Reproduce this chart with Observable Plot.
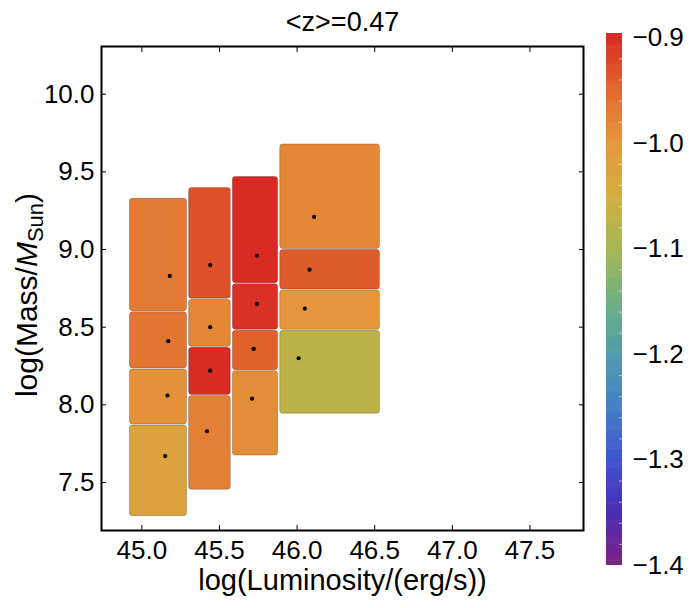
<!DOCTYPE html>
<html><head><meta charset="utf-8">
<script src="https://cdn.jsdelivr.net/npm/d3@7"></script>
<script src="https://cdn.jsdelivr.net/npm/@observablehq/plot@0.6"></script>
<style>
body{margin:0;background:#fff;}
#wrap{position:relative;width:692px;height:608px;font-family:"Liberation Sans",Arial,sans-serif;}
#wrap svg{position:absolute;top:0;}
</style></head><body><div id="wrap"></div>
<script>
const title = "<z>=0.47";
const xLabel = "log(Luminosity/(erg/s))";
const xTicks = [45.0, 45.5, 46.0, 46.5, 47.0, 47.5];
const yTicks = [7.5, 8.0, 8.5, 9.0, 9.5, 10.0];
const cTicks = [-1.4, -1.3, -1.2, -1.1, -1.0, -0.9];
const cMinor = [-1.38,-1.36,-1.34,-1.32,-1.28,-1.26,-1.24,-1.22,-1.18,-1.16,-1.14,-1.12,-1.08,-1.06,-1.04,-1.02,-0.98,-0.96,-0.94,-0.92];

// luminosity bin edges (4 columns)
const lumLo = [44.920, 45.301, 45.583, 45.888];
const lumHi = [45.294, 45.576, 45.881, 46.537];
// boxes: column index, mass range, colour value
const boxCol  = [0, 0, 0, 0,   1, 1, 1, 1,   2, 2, 2, 2,   3, 3, 3, 3];
const massLo  = [8.60, 8.23, 7.87, 7.28,  8.68, 8.37, 8.06, 7.45,  8.78, 8.48, 8.22, 7.67,  9.00, 8.74, 8.48, 7.94];
const massHi  = [9.33, 8.60, 8.23, 7.87,  9.40, 8.68, 8.37, 8.06,  9.47, 8.78, 8.48, 8.22,  9.68, 9.00, 8.74, 8.48];
const boxValue= [-0.970, -0.965, -0.995, -1.025,  -0.930, -0.985, -0.900, -0.975,  -0.900, -0.905, -0.945, -0.990,  -0.985, -0.940, -1.000, -1.075];
// black points (mean position in each box)
const dotLum  = [45.18, 45.17, 45.165, 45.15,  45.44, 45.44, 45.44, 45.42,  45.74, 45.74, 45.72, 45.71,  46.11, 46.08, 46.05, 46.01];
const dotMass = [8.83, 8.41, 8.06, 7.67,  8.90, 8.50, 8.22, 7.83,  8.96, 8.65, 8.36, 8.04,  9.21, 8.87, 8.62, 8.30];

// colour scheme (Mathematica-like "Rainbow")
const colorStops = [-1.4, -1.35, -1.3, -1.25, -1.2, -1.15, -1.1, -1.05, -1.0, -0.95, -0.9];
const colorRange = ["#7b2183", "#4a2db4", "#3f55cf", "#4580c6", "#4f9eaa", "#70b081", "#a8b653", "#d2ae40", "#e5963a", "#e2672e", "#d92a24"];

const boxes = boxCol.map((c, i) => ({x1: lumLo[c], x2: lumHi[c], y1: massLo[i], y2: massHi[i], v: boxValue[i]}));
const dots = dotLum.map((x, i) => ({x, y: dotMass[i]}));
const color = {type: "linear", domain: colorStops, range: colorRange, interpolate: "rgb"};
const font = "Liberation Sans, Arial, sans-serif";

const main = Plot.plot({
  width: 600, height: 608,
  marginLeft: 101, marginRight: 17, marginTop: 46, marginBottom: 78,
  style: {fontFamily: font, background: "transparent", overflow: "visible", color: "black"},
  x: {domain: [44.74, 47.845]},
  y: {domain: [7.191, 10.307]},
  color,
  marks: [
    Plot.rect(boxes, {x1: "x1", x2: "x2", y1: "y1", y2: "y2", fill: "v", inset: 0.5, rx: 3, stroke: "#000", strokeOpacity: 0.22}),
    Plot.dot(dots, {x: "x", y: "y", r: 2.1, fill: "black"}),
    Plot.axisX(xTicks, {anchor: "bottom", tickSize: -5, tickPadding: 15, tickFormat: d => d.toFixed(1), fontSize: 26, label: null}),
    Plot.axisX(xTicks, {anchor: "top", tickSize: -5, tickFormat: () => "", label: null}),
    Plot.axisY(yTicks, {anchor: "left", tickSize: -5, tickPadding: 12, tickFormat: d => d.toFixed(1), fontSize: 26, label: null}),
    Plot.axisY(yTicks, {anchor: "right", tickSize: -5, tickFormat: () => "", label: null}),
    Plot.frame({stroke: "black", strokeWidth: 2}),
    Plot.text([title], {frameAnchor: "top", dy: -24, text: d => d, fontSize: 27, lineAnchor: "middle"}),
    Plot.text([xLabel], {frameAnchor: "bottom", dy: 50, text: d => d, fontSize: 29, lineAnchor: "middle"})
  ]
});

// y-axis label with italic M and subscript
const svg = d3.select(main);
const yl = svg.append("text")
  .attr("transform", "translate(37,295) rotate(-90)")
  .attr("text-anchor", "middle")
  .attr("font-size", 30)
  .attr("font-family", font)
  .attr("fill", "black");
yl.append("tspan").text("log(Mass/");
yl.append("tspan").attr("font-style", "italic").text("M");
yl.append("tspan").attr("font-size", 22).attr("dy", 6).text("Sun");
yl.append("tspan").attr("dy", -6).text(")");

const strips = d3.range(-1.4, -0.896, 0.002);
const bar = Plot.plot({
  width: 92, height: 608,
  marginLeft: 6, marginRight: 70, marginTop: 33, marginBottom: 43,
  style: {fontFamily: font, background: "transparent", overflow: "visible", color: "black"},
  x: {domain: [0, 1], axis: null},
  y: {domain: [-1.4, -0.896], axis: null},
  color,
  marks: [
    Plot.rect(strips, {x1: () => 0, x2: () => 1, y1: d => d, y2: d => Math.min(d + 0.0025, -0.896), fill: d => d}),
    Plot.axisY(cMinor, {anchor: "right", tickSize: -4, stroke: "white", strokeOpacity: 0.5, tickFormat: () => "", label: null}),
    Plot.axisY(cTicks, {anchor: "right", tickSize: 0, tickPadding: 10, fontSize: 26, tickFormat: d => d.toFixed(1).replace("-", "\u2212"), label: null})
  ]
});

const wrap = document.getElementById("wrap");
main.style.left = "0px";
bar.style.left = "600px";
wrap.appendChild(main);
wrap.appendChild(bar);
</script></body></html>
